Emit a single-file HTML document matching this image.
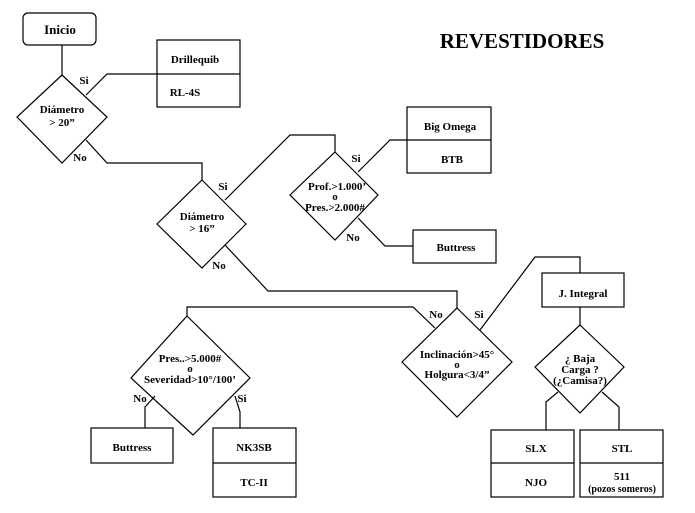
<!DOCTYPE html>
<html><head><meta charset="utf-8"><style>
html,body{margin:0;padding:0;background:#fff;}
svg{display:block;}
text{font-family:"Liberation Serif",serif;font-weight:bold;fill:#000;}
</style></head><body>
<svg width="695" height="513" viewBox="0 0 695 513" xmlns="http://www.w3.org/2000/svg">
<g fill="none" stroke="#000" stroke-width="1.2">
<rect x="23" y="13" width="73" height="32" rx="5"/>
<line x1="62" y1="45" x2="62" y2="75"/>
<polygon points="62,75 107,117 62,163 17,117"/>
<polyline points="86,95 107,74 157,74"/>
<rect x="157" y="40" width="83" height="67"/><line x1="157" y1="74" x2="240" y2="74"/>
<polyline points="86,140 107,163 202,163 202,180"/>
<polygon points="202,180 246,224 202,268 157,224"/>
<polyline points="225,200 290,135 335,135 335,152"/>
<polygon points="335,152 378,195 335,240 290,195"/>
<polyline points="358,172 390,140 407,140"/>
<rect x="407" y="107" width="84" height="66"/><line x1="407" y1="140" x2="491" y2="140"/>
<polyline points="358,218 385,246 413,246"/>
<rect x="413" y="230" width="83" height="33"/>
<polyline points="225,245 268,291 457,291 457,308"/>
<polygon points="457,308 512,362 457,417 402,362"/>
<polyline points="435,328 413,307 187,307 187,316"/>
<polygon points="187,316 250,378 193,435 131,378"/>
<polyline points="155,396 145,407 145,428"/>
<rect x="91" y="428" width="82" height="35"/>
<polyline points="235,396 240,412 240,428"/>
<rect x="213" y="428" width="83" height="69"/><line x1="213" y1="463" x2="296" y2="463"/>
<polyline points="480,330 535,257 580,257 580,273"/>
<rect x="542" y="273" width="82" height="34"/>
<line x1="580" y1="307" x2="580" y2="325"/>
<polygon points="580,325 624,367 580,413 535,367"/>
<polyline points="558,392 546,402 546,430"/>
<polyline points="602,392 619,407 619,430"/>
<rect x="491" y="430" width="83" height="67"/><line x1="491" y1="463" x2="574" y2="463"/>
<rect x="580" y="430" width="83" height="67"/><line x1="580" y1="463" x2="663" y2="463"/>
</g>
<g font-size="11" text-anchor="middle">
<text x="522" y="48" font-size="21">REVESTIDORES</text>
<text x="60" y="34" font-size="13">Inicio</text>
<text x="62" y="113">Diámetro</text><text x="62" y="126">&gt; 20”</text>
<text x="84" y="84">Si</text><text x="80" y="161">No</text>
<text x="195" y="63">Drillequib</text><text x="185" y="96">RL-4S</text>
<text x="202" y="220">Diámetro</text><text x="202" y="232">&gt; 16”</text>
<text x="223" y="190">Si</text><text x="219" y="269">No</text>
<text x="337" y="190">Prof.&gt;1.000’</text><text x="335" y="200">o</text><text x="335" y="211">Pres.&gt;2.000#</text>
<text x="356" y="162">Si</text><text x="353" y="241">No</text>
<text x="450" y="130">Big Omega</text><text x="452" y="163">BTB</text>
<text x="456" y="251">Buttress</text>
<text x="457" y="358">Inclinación&gt;45°</text><text x="457" y="368">o</text><text x="457" y="378">Holgura&lt;3/4”</text>
<text x="436" y="318">No</text><text x="479" y="318">Si</text>
<text x="190" y="362">Pres..&gt;5.000#</text><text x="190" y="372">o</text><text x="190" y="383">Severidad&gt;10°/100’</text>
<text x="140" y="402">No</text><text x="242" y="402">Si</text>
<text x="132" y="451">Buttress</text>
<text x="254" y="451">NK3SB</text><text x="254" y="486">TC-II</text>
<text x="583" y="297">J. Integral</text>
<text x="580" y="362">¿ Baja</text><text x="580" y="373">Carga ?</text><text x="580" y="384">(¿Camisa?)</text>
<text x="536" y="452">SLX</text><text x="536" y="486">NJO</text>
<text x="622" y="452">STL</text><text x="622" y="480">511</text>
<text x="622" y="492" font-size="10" font-weight="normal">(pozos someros)</text>
</g>
</svg>
</body></html>
